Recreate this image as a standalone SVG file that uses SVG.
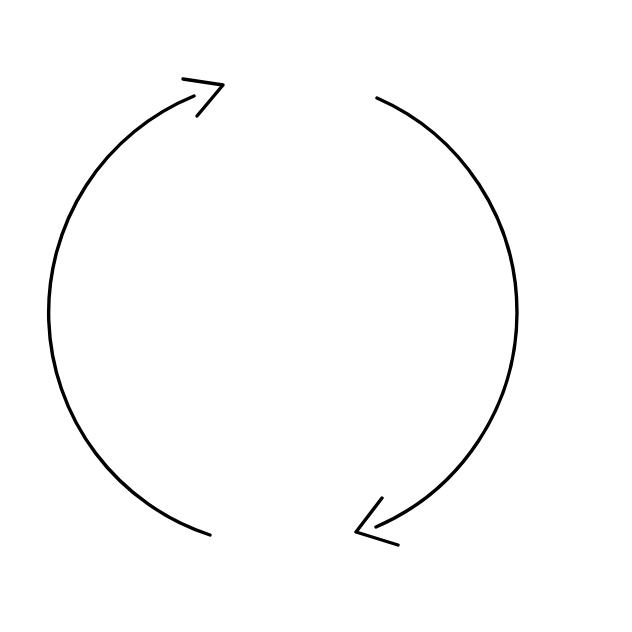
<svg xmlns="http://www.w3.org/2000/svg" width="632" height="632" viewBox="0 0 632 632">
<style>
.s{fill:none;stroke:#000;stroke-width:3.4;stroke-linecap:round;stroke-linejoin:round}
</style>
<rect width="632" height="632" fill="#fff"/>
<g id="connectors">
<path class="s" d="M 210 535 A 234 234 0 0 1 194 96"/>
<polyline class="s" points="183,79 223,85 197,116"/>
<path class="s" d="M 377 98 A 234 234 0 0 1 376 527"/>
<polyline class="s" points="382,498 356,532 398,545"/>
</g>
</svg>
